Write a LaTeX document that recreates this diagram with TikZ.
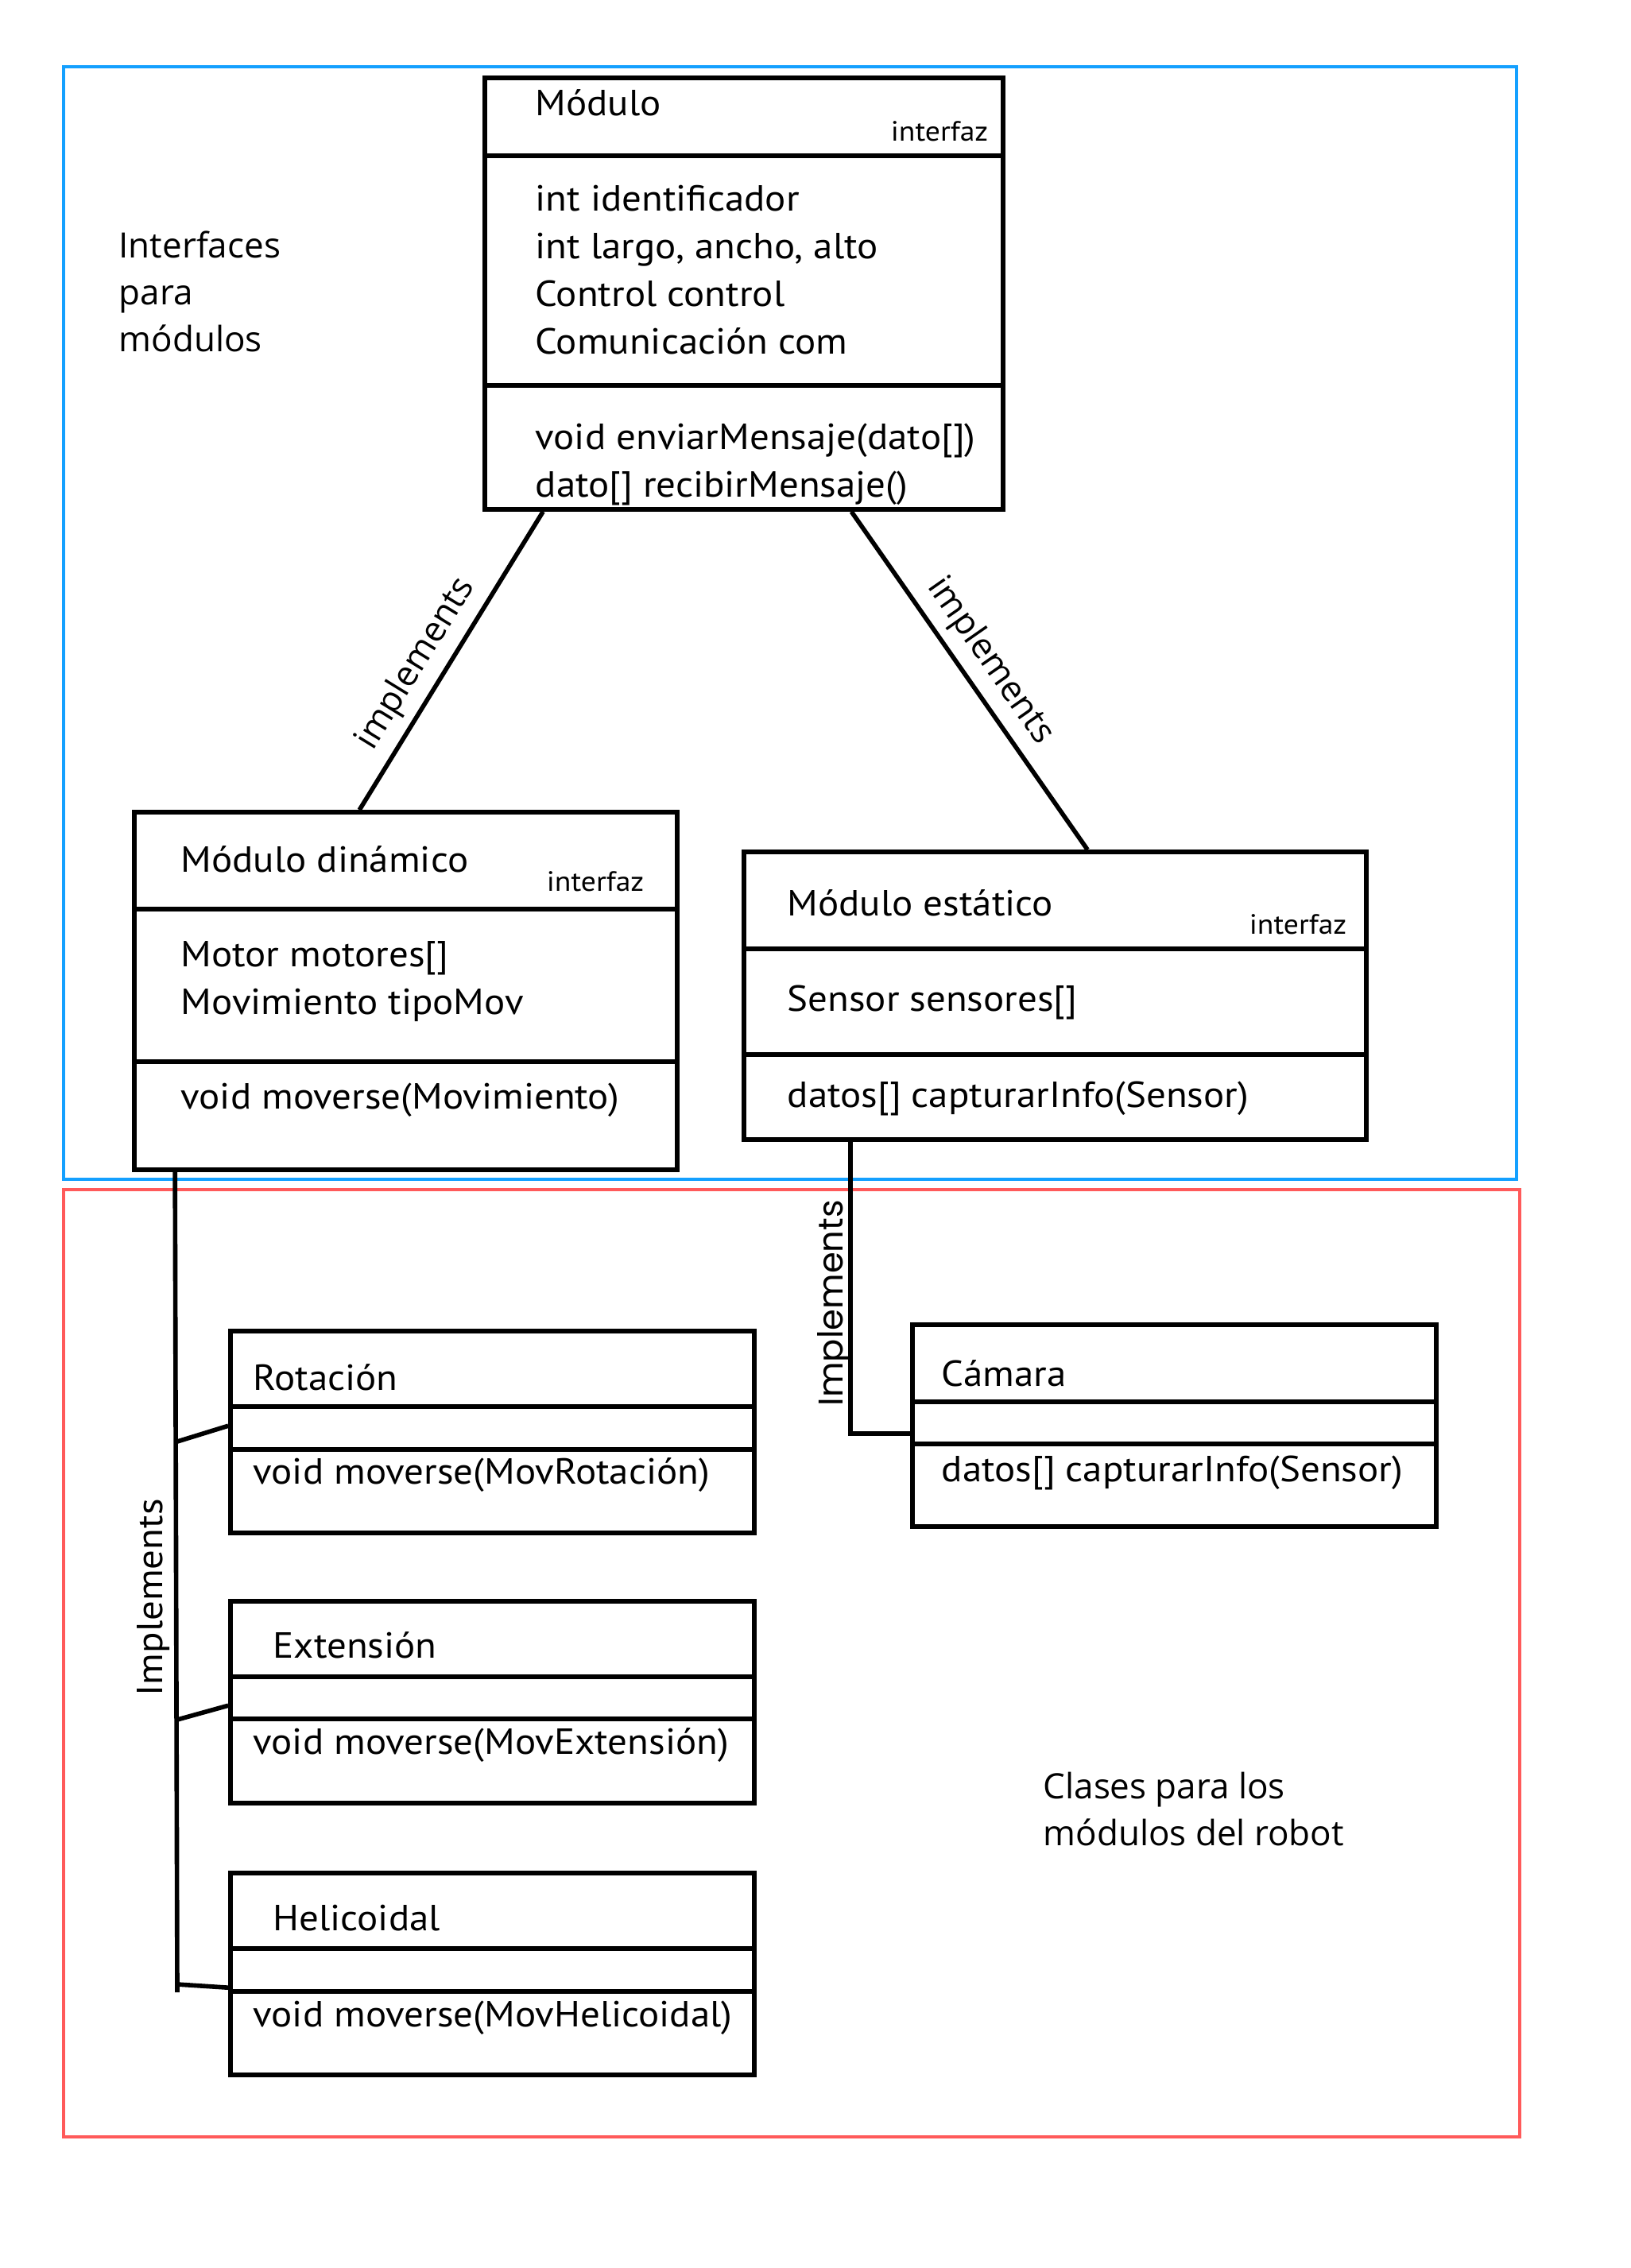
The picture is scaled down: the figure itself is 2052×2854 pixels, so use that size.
\documentclass[tikz,border=0pt]{standalone}
\usepackage{fontspec}
\setmainfont{PT Sans}[FakeStretch=1.07]
\newfontfamily\sidefont{Open Sans}
\newfontfamily\geofont{Poppins}
\usetikzlibrary{fit,calc}
\definecolor{frameblue}{RGB}{20,160,255}
\definecolor{framered}{RGB}{255,90,90}
% left-aligned lines whose first baseline is the baseline of the block
\newcommand{\stackrows}[1]{\begin{tabular}[t]{@{}l@{}}#1\end{tabular}}

\begin{document}
\begin{tikzpicture}[x=0.01cm,y=-0.01cm,
  umlbox/.style={draw=black, line width=1.6pt, inner sep=0pt, fit={#1}},
  sepline/.style={line width=1.6pt},
  link/.style={line width=1.6pt},
  txt/.style={anchor=base west, inner sep=0pt, font=\fontsize{13}{17.07}\selectfont},
  tag/.style={anchor=base east, inner sep=0pt, font=\fontsize{10}{12}\selectfont},
  side/.style={anchor=base west, inner sep=0pt, font=\sidefont\fontsize{12.5}{16.9}\selectfont},
  rel/.style={sloped, above, inner sep=3pt, font=\sidefont\fontsize{12.5}{15}\selectfont},
  frame/.style={line width=1.1pt}
]
\useasboundingbox (0,0) rectangle (2052,2854);

% package frames
\node[frame, draw=frameblue, inner sep=0pt, fit={(80,84) (1908,1484)}] (ifaces) {};
\node[frame, draw=framered, inner sep=0pt, fit={(80,1497) (1912,2689)}] (classes) {};

\node[side] (ifT) at (149,324) {\stackrows{Interfaces\\para\\módulos}};
\node[side] (clT) at (1312,2263) {\stackrows{Clases para los\\módulos del robot}};

% interface Módulo
\node[umlbox={(610,98) (1262,641)}] (mod) {};
\draw[sepline] (610,196) -- (1262,196);
\draw[sepline] (610,485) -- (1262,485);
\node[txt] (modN) at (673,145) {Módulo};
\node[tag] (modI) at (1244,177) {interfaz};
\node[txt] (modA) at (673,265) {\stackrows{int identificador\\int largo, ancho, alto\\Control control\\Comunicación com}};
\node[txt] (modM) at (673,565) {\stackrows{void enviarMensaje(dato[])\\dato[] recibirMensaje()}};

% interface Módulo dinámico
\node[umlbox={(169,1022) (852,1472)}] (din) {};
\draw[sepline] (169,1144) -- (852,1144);
\draw[sepline] (169,1336) -- (852,1336);
\node[txt] (dinN) at (227,1097) {Módulo dinámico};
\node[tag] (dinI) at (811,1121) {interfaz};
\node[txt] (dinA) at (227,1216) {\stackrows{Motor motores[]\\Movimiento tipoMov}};
\node[txt] (dinM) at (227,1395) {void moverse(Movimiento)};

% interface Módulo estático
\node[umlbox={(936,1072) (1719,1434)}] (est) {};
\draw[sepline] (936,1194) -- (1719,1194);
\draw[sepline] (936,1327) -- (1719,1327);
\node[txt] (estN) at (990,1152) {Módulo estático};
\node[tag] (estI) at (1695,1175) {interfaz};
\node[txt] (estA) at (990,1272) {Sensor sensores[]};
\node[txt] (estM) at (990,1393) {datos[] capturarInfo(Sensor)};

% class Rotación
\node[umlbox={(290,1675) (949,1929)}] (rot) {};
\draw[sepline] (290,1770) -- (949,1770);
\draw[sepline] (290,1824) -- (949,1824);
\node[txt] (rotN) at (318,1749) {Rotación};
\node[txt] (rotM) at (318,1867) {void moverse(MovRotación)};

% class Extensión
\node[umlbox={(290,2015) (949,2269)}] (ext) {};
\draw[sepline] (290,2110) -- (949,2110);
\draw[sepline] (290,2163) -- (949,2163);
\node[txt] (extN) at (343,2086) {Extensión};
\node[txt] (extM) at (318,2207) {void moverse(MovExtensión)};

% class Helicoidal
\node[umlbox={(290,2357) (949,2611)}] (hel) {};
\draw[sepline] (290,2452) -- (949,2452);
\draw[sepline] (290,2506) -- (949,2506);
\node[txt] (helN) at (343,2429) {Helicoidal};
\node[txt] (helM) at (318,2550) {void moverse(MovHelicoidal)};

% class Cámara
\node[umlbox={(1148,1667) (1807,1921)}] (cam) {};
\draw[sepline] (1148,1764) -- (1807,1764);
\draw[sepline] (1148,1817) -- (1807,1817);
\node[txt] (camN) at (1184,1744) {Cámara};
\node[txt] (camM) at (1184,1864) {datos[] capturarInfo(Sensor)};

% interface realisations
\draw[link] ($(din.north west)+(286,0)$) -- node[rel, pos=0.44] (lblL) {implements} ($(mod.south west)+(76,0)$);
\draw[link] ($(mod.south west)+(464,0)$) -- node[rel, pos=0.49] (lblR) {implements} ($(est.north west)+(435,0)$);

% dynamic modules
\coordinate (trunkTop) at ($(din.south west)+(54,0)$);
\coordinate (trunkEnd) at (223,2507);
\coordinate (jRot) at (223,1814);
\coordinate (jExt) at (223,2164);
\coordinate (jHel) at (223,2497);
\draw[link] (trunkTop) -- (trunkEnd);
\draw[link] (jRot) -- ($(rot.north west)+(0,122)$);
\draw[link] (jExt) -- ($(ext.north west)+(0,134)$);
\draw[link] (jHel) -- ($(hel.north west)+(0,147)$);
\node[txt, rotate=90] (lblDyn) at (204,2135) {Implements};

% static module
\draw[link] ($(est.south west)+(137,0)$) |- ($(cam.north west)+(0,140)$);
\node[anchor=base west, inner sep=0pt, rotate=90, font=\geofont\fontsize{12.3}{14}\selectfont] (lblSta) at (1060,1770) {Implements};

\end{tikzpicture}
\end{document}
